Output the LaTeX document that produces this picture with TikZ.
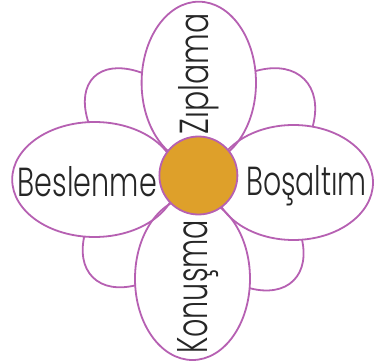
\documentclass[tikz,border=0pt]{standalone}
\usepackage{fontspec}
\usepackage{graphicx}
\setmainfont{Poppins Light}
\definecolor{petal}{RGB}{182,96,178}
\definecolor{core}{RGB}{222,160,42}
\begin{document}
\begin{tikzpicture}[x=1bp,y=1bp,
  petalline/.style={draw=petal, line width=1.8bp},
  word/.style={inner sep=0pt, anchor=base west, text=black!85}]
\useasboundingbox (0,0) rectangle (374,364);
% small diagonal petals
\filldraw[petalline, fill=white, shift={(154.8,225.8)}, rotate=135] (0,0) ellipse [x radius=86.3bp, y radius=48.4bp];
\filldraw[petalline, fill=white, shift={(245.2,225.8)}, rotate=45] (0,0) ellipse [x radius=83.5bp, y radius=53.2bp];
\filldraw[petalline, fill=white, shift={(152.7,146.7)}, rotate=45] (0,0) ellipse [x radius=84.8bp, y radius=51.1bp];
\filldraw[petalline, fill=white, shift={(233.6,143.5)}, rotate=135] (0,0) ellipse [x radius=84.8bp, y radius=51bp];
% big petals: fill
\fill[white] (198.8,281.3) ellipse [x radius=57.2bp, y radius=81bp];
\fill[white] (94.5,184.5) ellipse [x radius=82.3bp, y radius=57.5bp];
\fill[white] (293.5,181.5) ellipse [x radius=79.5bp, y radius=57.5bp];
\fill[white] (192.5,85.3) ellipse [x radius=57.5bp, y radius=81.3bp];
% big petals: outlines
\draw[petalline] (198.8,281.3) ellipse [x radius=57.2bp, y radius=81bp];
\draw[petalline] (94.5,184.5) ellipse [x radius=82.3bp, y radius=57.5bp];
\draw[petalline] (293.5,181.5) ellipse [x radius=79.5bp, y radius=57.5bp];
\draw[petalline] (192.5,85.3) ellipse [x radius=57.5bp, y radius=81.3bp];
% centre
\node[circle, petalline, fill=core, minimum size=78bp, inner sep=0pt] (core) at (198.4,188.5) {};
% words
\node[word] (w1) at (17.7,167.3) {\resizebox{139bp}{30bp}{Beslenme}};
\node[word] (w2) at (246,168.3) {\resizebox{120.7bp}{30bp}{Boşaltım}};
\node[word, rotate=90] (w3) at (208.3,229.7) {\resizebox{121bp}{30bp}{Zıplama}};
\node[word, rotate=90] (w4) at (207.7,10) {\resizebox{134bp}{30bp}{Konuşma}};
\end{tikzpicture}
\end{document}
